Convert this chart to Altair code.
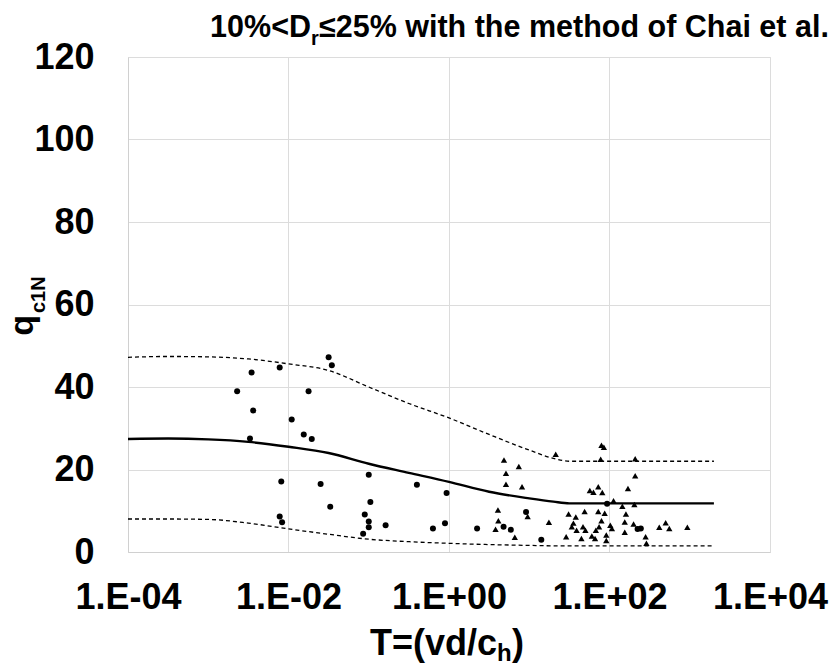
import altair as alt
import pandas as pd

# ---------------- data ----------------
# circles (log10 T, qc1N)
circle_log10_T = [-1.50, -1.46, -2.46, -2.11, -2.64, -1.75, -2.44, -1.96, -1.81, -1.71,
                  -2.48, -2.09, -1.60, -1.00, -1.48, -0.98, -0.40, -0.03, -2.11, -2.08,
                  -1.05, -1.00, -1.00, -1.07, -0.79, -0.20, -0.05, 0.35, 0.96, 0.68,
                  0.77, 1.15, 1.97, 2.35, 2.39]
circle_q = [47.2, 45.3, 43.5, 44.7, 39.0, 39.0, 34.3, 32.1, 28.5, 27.4,
            27.5, 17.1, 16.5, 18.7, 11.0, 12.1, 16.3, 14.3, 8.6, 7.2,
            9.1, 7.4, 6.0, 4.4, 6.5, 5.7, 7.0, 5.7, 9.7, 6.1,
            5.4, 3.0, 11.7, 5.6, 5.7]

# triangles (log10 T, qc1N)
triangle_log10_T = [0.685, 0.71, 0.71, 0.87, 0.91, 0.61, 0.615, 0.58, 0.98, 0.82,
                    1.33, 1.245, 1.46, 1.49, 1.55, 1.53, 1.58, 1.59, 1.65, 1.69,
                    1.67, 1.70, 1.755, 1.80, 1.86, 1.91, 1.78, 1.82, 1.83, 1.86,
                    1.90, 1.87, 1.94, 1.90, 1.93, 1.89, 1.96, 1.96, 2.01, 2.03,
                    2.05, 2.16, 2.205, 2.19, 2.19, 2.23, 2.32, 2.32, 2.31, 2.30,
                    2.45, 2.46, 2.62, 2.70, 2.745, 2.97]
triangle_q = [22.3, 19.1, 16.4, 20.7, 15.8, 10.2, 7.6, 5.5, 8.6, 3.6,
              23.7, 7.2, 3.7, 9.2, 7.0, 6.1, 8.5, 5.3, 3.3, 9.8,
              6.1, 5.3, 14.9, 14.5, 15.8, 14.4, 3.9, 3.3, 5.3, 9.8,
              7.6, 6.1, 9.4, 25.9, 25.4, 22.5, 4.1, 2.8, 6.5, 5.7,
              12.4, 11.1, 9.2, 7.3, 4.8, 15.4, 18.5, 22.6, 11.5, 6.8,
              3.7, 2.1, 6.0, 7.1, 5.7, 6.0]

# trend curves
curve_T = [1e-4, 3.16e-4, 1e-3, 3.16e-3, 1e-2, 3.16e-2, 1e-1, 3.16e-1,
           1.0, 3.16, 10.0, 20.0, 31.6, 100.0, 2000.0]
curve_upper = [47.2, 47.4, 47.3, 46.8, 45.6, 44.0, 40.0, 36.0,
               32.5, 28.5, 24.7, 22.7, 22.0, 22.0, 22.0]
curve_mean = [27.4, 27.5, 27.3, 26.7, 25.5, 24.0, 21.4, 19.2,
              17.0, 14.6, 13.0, 12.2, 11.8, 11.8, 11.8]
curve_lower = [8.0, 8.0, 7.9, 7.0, 5.6, 4.3, 3.1, 2.5,
               2.1, 1.8, 1.6, 1.5, 1.5, 1.5, 1.5]

x_ticks = [1e-4, 1e-2, 1.0, 1e2, 1e4]
y_ticks = [0, 20, 40, 60, 80, 100, 120]

# ---------------- tables ----------------
circles = pd.DataFrame({"T": [10 ** v for v in circle_log10_T], "q": circle_q})
triangles = pd.DataFrame({"T": [10 ** v for v in triangle_log10_T], "q": triangle_q})
curves = pd.DataFrame({"T": curve_T, "upper": curve_upper,
                       "mean": curve_mean, "lower": curve_lower})

FONT = "Liberation Sans"

label_expr = ("'1.E' + (round(log(datum.value)/LN10) < 0 ? '-' : '+') + "
              "(abs(round(log(datum.value)/LN10)) < 10 ? '0' : '') + "
              "abs(round(log(datum.value)/LN10))")

x_scale = alt.Scale(type="log", domain=[1e-4, 1e4], nice=False)
x_enc = alt.X("T:Q", scale=x_scale,
              axis=alt.Axis(values=x_ticks, labelExpr=label_expr, title=None,
                            ticks=False, tickSize=0, labelPadding=28,
                            labelFont=FONT, labelFontSize=36, labelFontWeight="bold",
                            labelColor="black", grid=True, gridColor="#dcdcdc",
                            domainColor="#d0d0d0", labelFlush=False,
                            labelOverlap=False))
y_scale = alt.Scale(domain=[0, 120], nice=False)
y_axis = alt.Axis(values=y_ticks, title=None, ticks=False, tickSize=0,
                  labelPadding=34, labelFont=FONT, labelFontSize=36,
                  labelFontWeight="bold", labelColor="black", grid=True,
                  gridColor="#dcdcdc", domainColor="#d0d0d0")

base_curve = alt.Chart(curves).encode(x=x_enc)

upper = base_curve.mark_line(color="black", strokeWidth=1.3, strokeDash=[4, 3],
                             interpolate="monotone").encode(
    y=alt.Y("upper:Q", scale=y_scale, axis=y_axis))
mean = base_curve.mark_line(color="black", strokeWidth=2.4,
                            interpolate="monotone").encode(
    y=alt.Y("mean:Q", scale=y_scale))
lower = base_curve.mark_line(color="black", strokeWidth=1.3, strokeDash=[4, 3],
                             interpolate="monotone").encode(
    y=alt.Y("lower:Q", scale=y_scale))

pts_c = alt.Chart(circles).mark_point(shape="circle", filled=True, color="black",
                                      size=36, opacity=1).encode(
    x=alt.X("T:Q", scale=x_scale),
    y=alt.Y("q:Q", scale=y_scale))
pts_t = alt.Chart(triangles).mark_point(shape="triangle-up", filled=True,
                                        color="black", size=40, opacity=1).encode(
    x=alt.X("T:Q", scale=x_scale),
    y=alt.Y("q:Q", scale=y_scale))


def label(text, x, y, size, align="left", angle=0):
    kw = dict(font=FONT, fontSize=size, fontWeight="bold", color="black",
              align=align, baseline="alphabetic")
    if angle:
        kw["angle"] = angle
    return alt.Chart(alt.Data(values=[{}])).mark_text(**kw).encode(
        x=alt.value(x), y=alt.value(y), text=alt.value(text))


texts = [
    # title
    label("10%<D", 183, -20, 30.5, align="right"),
    label("r", 183, -12, 20),
    label("≤25% with the method of Chai et al.", 191, -20, 30.5),
    # x axis title
    label("T=(vd/c", 369, 598, 36, align="right"),
    label("h", 369, 604, 24),
    label(")", 384, 598, 36),
    # y axis title
    label("q", -95, 258, 34, align="right", angle=270),
    label("c1N", -83, 256, 20, align="left", angle=270),
]

chart = alt.layer(upper, mean, lower, pts_c, pts_t, *texts).properties(
    width=642, height=495,
    padding={"left": 128, "top": 57, "right": 65, "bottom": 114},
    autosize="none",
).configure_view(stroke=None).configure(background="white")

chart.save("out.html", embed_options={"renderer": "svg", "actions": False})
